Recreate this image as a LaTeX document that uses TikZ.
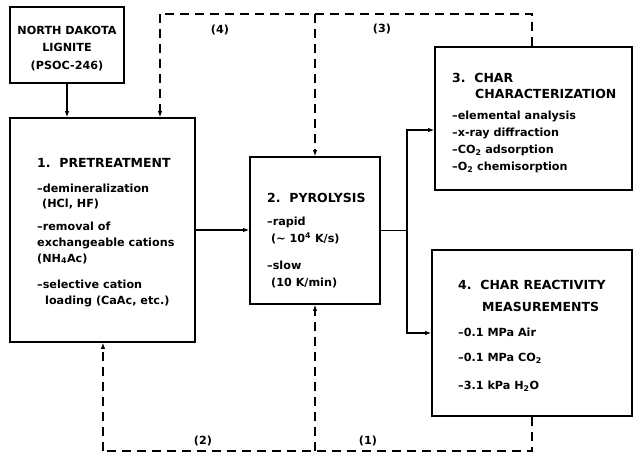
\documentclass[tikz,border=0pt]{standalone}
\usepackage{fontspec}
\setmainfont{DejaVu Sans}
\usetikzlibrary{arrows.meta}
\tikzset{
  box/.style={draw, line width=1.8pt, rectangle, inner sep=0pt},
  ttl/.style={anchor=west, inner sep=0pt, font=\fontsize{12.5}{12.5}\selectfont\bfseries, text height=9pt, text depth=0pt},
  txt/.style={anchor=west, inner sep=0pt, font=\fontsize{11.2}{11.2}\selectfont\bfseries, text height=8pt, text depth=0pt},
  ctr/.style={anchor=center, inner sep=0pt, font=\fontsize{11.2}{11.2}\selectfont\bfseries, text height=8pt, text depth=0pt},
  conn/.style={line width=1.1pt},
  arr/.style={-{Latex[length=6pt,width=4.5pt]}},
  dsh/.style={line width=1.1pt, dash pattern=on 9pt off 6pt},
}
\begin{document}
\begin{tikzpicture}[x=1pt,y=-1pt]
\useasboundingbox (0,0) rectangle (635,458);
\fill[white] (0,0) rectangle (635,458);

% boxes
\node[box, minimum width=114pt, minimum height=76pt] (nd) at (67,45) {};
\node[box, minimum width=185pt, minimum height=224pt] (pre) at (102.5,230) {};
\node[box, minimum width=130pt, minimum height=147pt] (pyr) at (315,230.5) {};
\node[box, minimum width=197pt, minimum height=143pt] (cc) at (533.5,118.5) {};
\node[box, minimum width=200pt, minimum height=166pt] (cr) at (532,333) {};

% North Dakota text
\node[ctr] (nd1) at (67,30) {NORTH DAKOTA};
\node[ctr] (nd2) at (67,47) {LIGNITE};
\node[ctr] (nd3) at (67,65) {(PSOC-246)};

% pretreatment text
\node[ttl] (p0) at (37,163) {1.\ \ PRETREATMENT};
\node[txt] (p1) at (37,188) {--demineralization};
\node[txt] (p2) at (42,203) {(HCl, HF)};
\node[txt] (p3) at (37,226) {--removal of};
\node[txt] (p4) at (37,242) {exchangeable cations};
\node[txt] (p5) at (37,258) {(NH\textsubscript{4}Ac)};
\node[txt] (p6) at (37,284) {--selective cation};
\node[txt] (p7) at (45,300) {loading (CaAc, etc.)};

% pyrolysis text
\node[ttl] (y0) at (267,198) {2.\ \ PYROLYSIS};
\node[txt] (y1) at (267,221) {--rapid};
\node[txt] (y2) at (271,238) {(\textasciitilde\ 10\textsuperscript{4} K/s)};
\node[txt] (y3) at (267,265) {--slow};
\node[txt] (y4) at (271,282) {(10 K/min)};

% char characterization text
\node[ttl] (c0) at (452,78) {3.\ \ CHAR};
\node[ttl] (c1) at (475,94) {CHARACTERIZATION};
\node[txt] (c2) at (452,115) {--elemental analysis};
\node[txt] (c3) at (452,132) {--x-ray diffraction};
\node[txt] (c4) at (452,149) {--CO\textsubscript{2} adsorption};
\node[txt] (c5) at (452,166) {--O\textsubscript{2} chemisorption};

% char reactivity text
\node[ttl] (r0) at (458,285) {4.\ \ CHAR REACTIVITY};
\node[ttl] (r1) at (482,307) {MEASUREMENTS};
\node[txt] (r2) at (458,332) {--0.1 MPa Air};
\node[txt] (r3) at (458,357) {--0.1 MPa CO\textsubscript{2}};
\node[txt] (r4) at (458,385) {--3.1 kPa H\textsubscript{2}O};

% labels
\node[ctr] (l4) at (220,29) {(4)};
\node[ctr] (l3) at (382,28) {(3)};
\node[ctr] (l2) at (203,440) {(2)};
\node[ctr] (l1) at (368,440) {(1)};

% solid connectors
\draw[conn, arr] (nd.south) -- (nd.south |- pre.north);
\draw[conn, arr] (pre.east) -- (pre.east -| pyr.west);
\coordinate (j) at (407,230.5);
\coordinate (ja) at (407,130);
\coordinate (jb) at (407,333);
\draw[conn] (pyr.east) -- (j);
\draw[conn, arr] (j) -- (ja) -- (ja -| cc.west);
\draw[conn, arr] (j) -- (jb) -- (cr.west);

% dashed connectors top
\coordinate (t4) at (160,14);
\coordinate (t3) at (532,14);
\draw[dsh] (cc.north -| t3) -- (t3) -- (t4);
\draw[dsh, arr] (t4) -- (t4 |- pre.north);
\draw[dsh, arr] (pyr.north |- t4) -- (pyr.north);

% dashed connectors bottom
\coordinate (b2) at (103,451);
\coordinate (b1) at (532,451);
\draw[dsh] (cr.south -| b1) -- (b1) -- (b2);
\draw[dsh, arr] (b2) -- (b2 |- pre.south);
\draw[dsh, arr] (pyr.south |- b1) -- (pyr.south);
\end{tikzpicture}
\end{document}
